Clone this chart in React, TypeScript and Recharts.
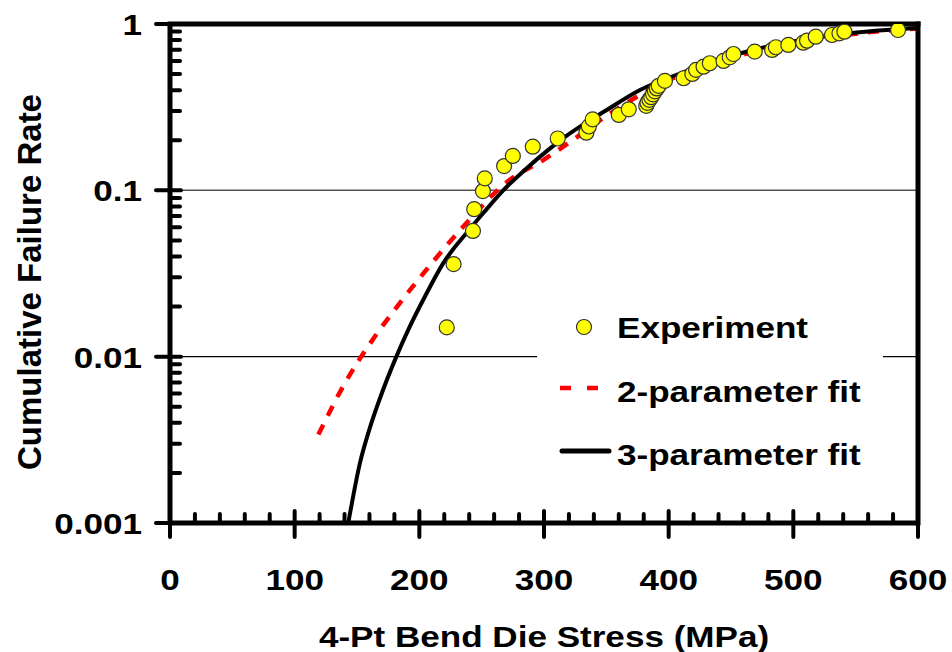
import { ComposedChart, Legend, Line, ReferenceLine, Scatter, XAxis, YAxis } from 'recharts'

const expStress = [
  222, 227.5, 243, 244, 251, 252.5, 268, 275, 291, 311, 334, 336, 339, 360, 368, 382, 383, 384.5, 386,
  387.5, 389, 390.5, 392, 397, 412, 419, 422, 428, 433, 444, 449, 452, 469, 483, 486, 496, 508, 511,
  518, 531, 537, 541, 584,
]
const expRate = [
  0.015, 0.036, 0.057, 0.077, 0.099, 0.118, 0.14, 0.161, 0.183, 0.205, 0.222, 0.242, 0.267, 0.284,
  0.307, 0.322, 0.336, 0.35, 0.363, 0.378, 0.394, 0.41, 0.425, 0.455, 0.472, 0.501, 0.53, 0.554, 0.581,
  0.6, 0.631, 0.66, 0.682, 0.698, 0.725, 0.748, 0.772, 0.794, 0.839, 0.859, 0.879, 0.899, 0.92,
]

const fit2Stress = [119, 140.4, 161.8, 182.2, 204.5, 235.3, 272.7, 299.4, 319.5, 350, 400, 450, 500, 550, 600]
const fit2Rate = [0.0034, 0.00695, 0.0124, 0.02, 0.0325, 0.0606, 0.116, 0.152, 0.192, 0.28, 0.46, 0.625, 0.77, 0.875, 0.94]

const fit3Stress = [
  143, 152.4, 159.9, 169, 181.3, 191.1, 204.5, 219.2, 240.1, 251.3, 267.3, 284.8, 303.4, 315.5, 350.3,
  377, 409, 457, 511, 551, 600,
]
const fit3Rate = [
  0.001, 0.0023, 0.00365, 0.00578, 0.0099, 0.0145, 0.023, 0.0365, 0.058, 0.073, 0.1, 0.133, 0.175, 0.206,
  0.304, 0.401, 0.504, 0.665, 0.813, 0.889, 0.946,
]

const seriesNames = ['Experiment', '2-parameter fit', '3-parameter fit']
const xTitle = '4-Pt Bend Die Stress (MPa)'
const yTitle = 'Cumulative Failure Rate'

const xTicks = [
  0, 20, 40, 60, 80, 100, 120, 140, 160, 180, 200, 220, 240, 260, 280, 300, 320, 340, 360, 380, 400, 420,
  440, 460, 480, 500, 520, 540, 560, 580, 600,
]
const xMajor = [0, 100, 200, 300, 400, 500, 600]
const xMajorLabels = ['0', '100', '200', '300', '400', '500', '600']

const yTicks = [
  0.001, 0.002, 0.003, 0.004, 0.005, 0.006, 0.007, 0.008, 0.009, 0.01, 0.02, 0.03, 0.04, 0.05, 0.06,
  0.07, 0.08, 0.09, 0.1, 0.2, 0.3, 0.4, 0.5, 0.6, 0.7, 0.8, 0.9, 1,
]
const yMajor = [0.001, 0.01, 0.1, 1]
const yMajorLabels = ['0.001', '0.01', '0.1', '1']

const expData = expStress.map((stress, i) => ({ stress, rate: expRate[i] }))
const fit2Data = fit2Stress.map((stress, i) => ({ stress, rate: fit2Rate[i] }))
const fit3Data = fit3Stress.map((stress, i) => ({ stress, rate: fit3Rate[i] }))

const FONT = '"Liberation Sans", Arial, sans-serif'

function Txt({ x, y, anchor = 'start', size = 30, stretch = 1.17, children }: any) {
  return (
    <text
      transform={`translate(${x} ${y}) scale(${stretch} 1)`}
      textAnchor={anchor}
      fontFamily={FONT}
      fontWeight={700}
      fontSize={size}
      fill="#000"
    >
      {children}
    </text>
  )
}

function YTick({ x, y, payload }: any) {
  const i = yMajor.indexOf(payload.value)
  if (i >= 0) {
    return (
      <g>
        <line x1={x - 14} x2={x + 11} y1={y} y2={y} stroke="#000" strokeWidth={4} strokeLinecap="round" />
        <Txt x={x - 28} y={y + 11} anchor="end">
          {yMajorLabels[i]}
        </Txt>
      </g>
    )
  }
  return <line x1={x} x2={x + 10} y1={y} y2={y} stroke="#000" strokeWidth={4} strokeLinecap="round" />
}

function XTick({ x, y, payload }: any) {
  const i = xMajor.indexOf(payload.value)
  if (i >= 0) {
    return (
      <g>
        <line x1={x} x2={x} y1={y - 12} y2={y + 14} stroke="#000" strokeWidth={4} strokeLinecap="round" />
        <Txt x={x} y={y + 67} anchor="middle">
          {xMajorLabels[i]}
        </Txt>
      </g>
    )
  }
  return <line x1={x} x2={x} y1={y - 9} y2={y} stroke="#000" strokeWidth={4} strokeLinecap="round" />
}

function XTitle() {
  return (
    <Txt x={544} y={647} anchor="middle">
      {xTitle}
    </Txt>
  )
}

function YTitle() {
  return (
    <text
      transform="translate(41 282) rotate(-90)"
      textAnchor="middle"
      fontFamily={FONT}
      fontWeight={700}
      fontSize={33}
      fill="#000"
    >
      {yTitle}
    </text>
  )
}

function ExpDot({ cx, cy }: any) {
  return <circle cx={cx} cy={cy} r={7.5} fill="#ffff00" stroke="#333" strokeWidth={1.2} />
}

function LegendBox() {
  return (
    <svg width={346} height={180} style={{ display: 'block', background: '#fff' }}>
      <circle cx={47} cy={27} r={7.5} fill="#ffff00" stroke="#333" strokeWidth={1.2} />
      <Txt x={80} y={38}>{seriesNames[0]}</Txt>
      <line x1={23} x2={61} y1={88} y2={88} stroke="#ff0000" strokeWidth={4.5} strokeDasharray="11 16" />
      <Txt x={80} y={102}>{seriesNames[1]}</Txt>
      <line x1={25} x2={72} y1={151} y2={151} stroke="#000" strokeWidth={5} strokeLinecap="round" />
      <Txt x={80} y={165}>{seriesNames[2]}</Txt>
    </svg>
  )
}

export default function App() {
  return (
    <div style={{ position: 'absolute', left: 0, top: 0 }}>
      <ComposedChart width={952} height={652} margin={{ top: 24, right: 34, bottom: 69, left: 70 }}>
        <XAxis
          type="number"
          dataKey="stress"
          domain={[0, 600]}
          allowDataOverflow
          ticks={xTicks}
          interval={0}
          tick={XTick}
          tickLine={false}
          tickSize={0}
          tickMargin={0}
          height={60}
          axisLine={{ stroke: '#000', strokeWidth: 5 }}
          label={<XTitle />}
        />
        <YAxis
          type="number"
          dataKey="rate"
          scale="log"
          domain={[0.001, 1]}
          allowDataOverflow
          ticks={yTicks}
          interval={0}
          tick={YTick}
          tickLine={false}
          tickSize={0}
          tickMargin={0}
          width={100}
          axisLine={{ stroke: '#000', strokeWidth: 5 }}
          label={<YTitle />}
        />
        <ReferenceLine y={0.1} stroke="#555" strokeWidth={1.5} />
        <ReferenceLine y={0.01} stroke="#000" strokeWidth={1.3} />
        <Line
          data={fit2Data}
          dataKey="rate"
          type="monotone"
          stroke="#ff0000"
          strokeWidth={4.5}
          strokeDasharray="11 10"
          dot={false}
          activeDot={false}
          isAnimationActive={false}
        />
        <Line
          data={fit3Data}
          dataKey="rate"
          type="monotone"
          stroke="#000"
          strokeWidth={4}
          dot={false}
          activeDot={false}
          isAnimationActive={false}
        />
        <Scatter data={expData} dataKey="rate" shape={ExpDot} isAnimationActive={false} />
        <ReferenceLine y={1} stroke="#000" strokeWidth={5} strokeLinecap="square" />
        <ReferenceLine x={600} stroke="#000" strokeWidth={5} strokeLinecap="square" />
        <Legend
          layout="vertical"
          align="center"
          verticalAlign="middle"
          content={<LegendBox />}
          wrapperStyle={{ position: 'absolute', left: 537, top: 300, width: 346, height: 180 }}
        />
      </ComposedChart>
    </div>
  )
}
